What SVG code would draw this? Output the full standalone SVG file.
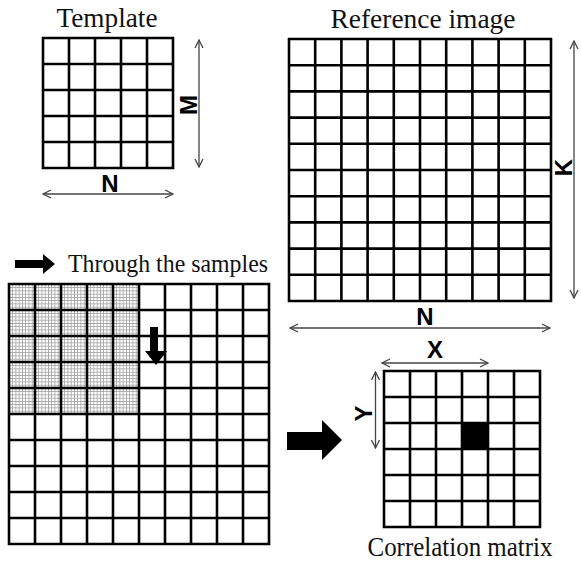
<svg xmlns="http://www.w3.org/2000/svg" width="581" height="562" viewBox="0 0 581 562">
  <style>
    .grid { fill: none; stroke: #000; stroke-width: 2.6; }
    .title { font-family: "Liberation Serif", "Times New Roman", serif; font-size: 27px; fill: #111; }
    .dim { font-family: "Liberation Sans", Arial, sans-serif; font-size: 24px; font-weight: bold; fill: #000; }
    .span { stroke: #444; stroke-width: 1.3; fill: none; marker-start: url(#chev); marker-end: url(#chev); }
    .block { fill: #000; }
  </style>
  <defs>
    <marker id="chev" viewBox="0 0 10 10" refX="9" refY="5" markerWidth="10" markerHeight="10" markerUnits="userSpaceOnUse" orient="auto-start-reverse">
      <polyline points="1,1 9,5 1,9" fill="none" stroke="#444" stroke-width="1.3"/>
    </marker>
    <pattern id="mesh" width="3.25" height="3.25" patternUnits="userSpaceOnUse" x="9" y="284">
      <rect width="3.25" height="3.25" fill="#fff"/>
      <path d="M0,0.4H3.25M0.4,0V3.25" stroke="#9a9a9a" stroke-width="0.75"/>
    </pattern>
  </defs>

  <rect width="581" height="562" fill="#fff"/>

  <!-- Template: 5x5 grid -->
  <g id="template">
    <text class="title" x="107" y="27" text-anchor="middle" textLength="101" lengthAdjust="spacingAndGlyphs">Template</text>
    <path class="grid" d="M43,38H173V168H43Z M69,38V168 M95,38V168 M121,38V168 M147,38V168 M43,64H173 M43,90H173 M43,116H173 M43,142H173"/>
  </g>

  <!-- Reference image: 10x10 grid -->
  <g id="reference-image">
    <text class="title" x="423" y="28" text-anchor="middle" textLength="185" lengthAdjust="spacingAndGlyphs">Reference image</text>
    <path class="grid" d="M289,39H551V301H289Z
      M315.2,39V301 M341.4,39V301 M367.6,39V301 M393.8,39V301 M420,39V301 M446.2,39V301 M472.4,39V301 M498.6,39V301 M524.8,39V301
      M289,65.2H551 M289,91.4H551 M289,117.6H551 M289,143.8H551 M289,170H551 M289,196.2H551 M289,222.4H551 M289,248.6H551 M289,274.8H551"/>
  </g>

  <!-- Sliding window over the samples -->
  <g id="search">
    <polygon class="block" points="15,260 43,260 43,254 55,264 43,274 43,268 15,268"/>
    <text class="title" x="68" y="272" style="font-size:26px" textLength="200" lengthAdjust="spacingAndGlyphs">Through the samples</text>
    <rect x="9" y="284" width="130" height="130" fill="url(#mesh)"/>
    <path class="grid" d="M9,284H269V544H9Z
      M35,284V544 M61,284V544 M87,284V544 M113,284V544 M139,284V544 M165,284V544 M191,284V544 M217,284V544 M243,284V544
      M9,310H269 M9,336H269 M9,362H269 M9,388H269 M9,414H269 M9,440H269 M9,466H269 M9,492H269 M9,518H269"/>
    <polygon class="block" points="150,327 158,327 158,351 167,351 156,365 145,351 150,351"/>
  </g>

  <!-- Transition arrow -->
  <g id="to-result">
    <polygon class="block" points="287,432 322,432 322,420 342,440 322,460 322,450 287,450"/>
  </g>

  <!-- Correlation matrix: 6x6 grid with peak cell -->
  <g id="correlation-matrix">
    <rect x="462" y="423" width="26" height="26" fill="#000"/>
    <path class="grid" d="M384,371H540V527H384Z
      M410,371V527 M436,371V527 M462,371V527 M488,371V527 M514,371V527
      M384,397H540 M384,423H540 M384,449H540 M384,475H540 M384,501H540"/>
    <text class="title" x="460" y="556" text-anchor="middle" textLength="185" lengthAdjust="spacingAndGlyphs">Correlation matrix</text>
  </g>

  <!-- Dimension connectors -->
  <g id="connectors">
    <line class="span" x1="199" y1="40" x2="199" y2="167"/>
    <line class="span" x1="43" y1="194" x2="173" y2="194"/>
    <line class="span" x1="574" y1="41" x2="574" y2="298"/>
    <line class="span" x1="290" y1="328" x2="550" y2="328"/>
    <line class="span" x1="382" y1="363" x2="488" y2="363"/>
    <line class="span" x1="375.5" y1="372" x2="375.5" y2="448"/>
  </g>

  <!-- Dimension labels -->
  <g id="labels">
    <text class="dim" transform="translate(197,105) rotate(-90)" text-anchor="middle">M</text>
    <text class="dim" x="110" y="192" text-anchor="middle">N</text>
    <text class="dim" transform="translate(572,167.5) rotate(-90)" text-anchor="middle">K</text>
    <text class="dim" x="425" y="325" text-anchor="middle">N</text>
    <text class="dim" x="435" y="358" text-anchor="middle">X</text>
    <text class="dim" transform="translate(372,413.5) rotate(-90)" text-anchor="middle">Y</text>
  </g>
</svg>
